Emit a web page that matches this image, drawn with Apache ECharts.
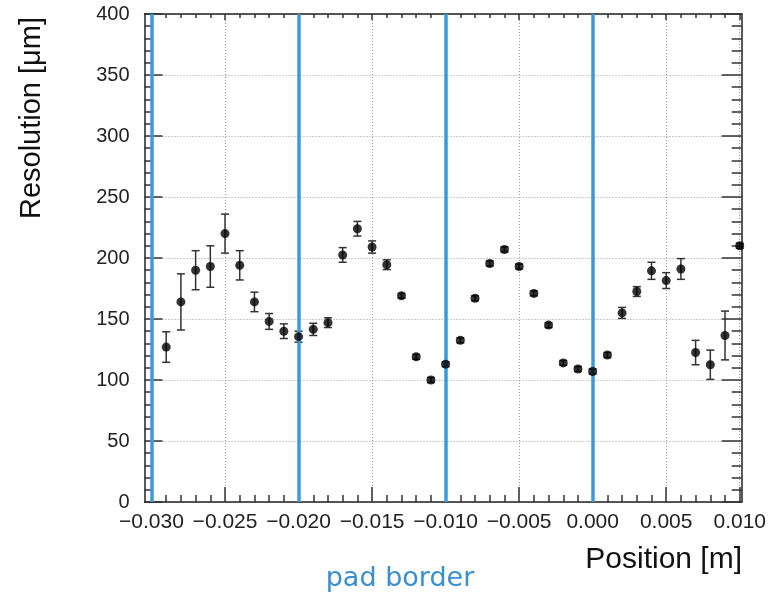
<!DOCTYPE html>
<html>
<head>
<meta charset="utf-8">
<script src="https://cdn.jsdelivr.net/npm/echarts@6/dist/echarts.min.js"></script>
<style>
  html, body { margin: 0; padding: 0; background: #fff; }
  #main { width: 769px; height: 598px; }
</style>
</head>
<body>
<div id="main"></div>
<script>
// position of each measurement [m]
const positions = [
  -0.029, -0.028, -0.027, -0.026, -0.025, -0.024, -0.023, -0.022, -0.021, -0.020,
  -0.019, -0.018, -0.017, -0.016, -0.015, -0.014, -0.013, -0.012, -0.011, -0.010,
  -0.009, -0.008, -0.007, -0.006, -0.005, -0.004, -0.003, -0.002, -0.001, 0.000,
  0.001, 0.002, 0.003, 0.004, 0.005, 0.006, 0.007, 0.008, 0.009, 0.010
];
// resolution [um]
const resolution = [
  127, 164, 190, 193, 220, 194, 164, 148, 140, 135.5,
  141.5, 147, 202.5, 224, 209, 194.5, 169, 119, 100, 113,
  132.5, 167, 195.5, 207, 193, 171, 145, 114, 109, 107,
  120.5, 155, 172.5, 189.5, 181.5, 191, 122.5, 112.5, 136.5, 210
];
// error on resolution [um]
const resolutionErr = [
  12.5, 23, 16, 17, 16, 12, 8, 6.5, 6, 4.5,
  5, 4, 6, 6, 5, 4, 2, 2, 2, 2,
  2, 2, 2, 2, 2, 2, 2, 2, 2, 2,
  2, 4.5, 4, 7, 6.5, 8.5, 10, 12, 20, 2
];
// pad borders [m]
const padBorders = [-0.030, -0.020, -0.010, 0.000];

const xMin = -0.03, xMax = 0.01, xStep = 0.005;
const yMin = 0, yMax = 400, yStep = 50;

const FONT = "'Liberation Sans', Arial, sans-serif";
const BLUE = "#3b9bd8";

const points = positions.map((x, i) => [x, resolution[i]]);
const bars = positions.map((x, i) => [x, resolution[i] - resolutionErr[i], resolution[i] + resolutionErr[i]]);

function fmtX(v) {
  if (Math.abs(v) < 1e-9) return "0.000";
  const s = Math.abs(v).toFixed(3);
  return v < 0 ? "\u2212" + s : s;
}

const chart = echarts.init(document.getElementById("main"));

const frameLine = { show: true, onZero: false, lineStyle: { color: "#222", width: 1.5 } };
const gridDots = { show: true, lineStyle: { color: "#999", type: [1, 2], width: 1 } };

chart.setOption({
  animation: false,
  grid: [
    { left: 144.5, right: 27.3, top: 14, bottom: 96 }, // frame
    { left: 151.5, right: 28.8, top: 14, bottom: 96 }  // data
  ],
  xAxis: [
    { gridIndex: 0, type: "value", min: 0, max: 1, position: "bottom",
      axisLine: frameLine, axisTick: { show: false }, axisLabel: { show: false }, splitLine: { show: false } },
    { gridIndex: 0, type: "value", min: 0, max: 1, position: "top",
      axisLine: frameLine, axisTick: { show: false }, axisLabel: { show: false }, splitLine: { show: false } },
    { gridIndex: 1, type: "value", min: xMin, max: xMax, interval: xStep, position: "bottom",
      axisLine: { show: false, onZero: false },
      axisTick: { show: true, inside: true, length: 15, lineStyle: { color: "#333", width: 1.5 } },
      minorTick: { show: true, splitNumber: 5, length: 7, lineStyle: { color: "#333", width: 1.5 } },
      axisLabel: { show: true, formatter: fmtX, fontSize: 21, fontFamily: FONT, color: "#222", margin: 10 },
      splitLine: gridDots },
    { gridIndex: 1, type: "value", min: xMin, max: xMax, interval: xStep, position: "top",
      axisLine: { show: false, onZero: false },
      axisTick: { show: true, inside: true, length: 6, lineStyle: { color: "#333", width: 1.5 } },
      minorTick: { show: true, splitNumber: 5, length: 4, lineStyle: { color: "#333", width: 1.5 } },
      axisLabel: { show: false }, splitLine: { show: false } }
  ],
  yAxis: [
    { gridIndex: 0, type: "value", min: yMin, max: yMax, interval: yStep, position: "left",
      axisLine: frameLine,
      axisTick: { show: true, inside: true, length: 18, lineStyle: { color: "#333", width: 1.5 } },
      minorTick: { show: true, splitNumber: 5, length: 8, lineStyle: { color: "#333", width: 1.5 } },
      axisLabel: { show: true, fontSize: 20, fontFamily: FONT, color: "#222", margin: 15 },
      splitLine: gridDots },
    { gridIndex: 0, type: "value", min: yMin, max: yMax, interval: yStep, position: "right",
      axisLine: frameLine,
      axisTick: { show: true, inside: true, length: 20, lineStyle: { color: "#333", width: 1.5 } },
      minorTick: { show: true, splitNumber: 5, length: 10, lineStyle: { color: "#333", width: 1.5 } },
      axisLabel: { show: false }, splitLine: { show: false } },
    { gridIndex: 1, type: "value", min: yMin, max: yMax, show: false }
  ],
  series: [
    {
      // pad borders
      type: "line", xAxisIndex: 2, yAxisIndex: 2, data: [], z: 1,
      markLine: {
        silent: true, symbol: "none", animation: false,
        label: { show: false },
        lineStyle: { color: BLUE, width: 3.5, type: "solid" },
        data: padBorders.map(v => ({ xAxis: v }))
      }
    },
    {
      type: "custom", xAxisIndex: 2, yAxisIndex: 2, z: 4,
      encode: { x: 0, y: [1, 2] },
      data: bars,
      renderItem: function (params, api) {
        const x = api.value(0);
        const top = api.coord([x, api.value(2)]);
        const bot = api.coord([x, api.value(1)]);
        const w = 4;
        const st = { stroke: "#333", lineWidth: 1.5 };
        return {
          type: "group",
          children: [
            { type: "line", shape: { x1: top[0], y1: top[1], x2: bot[0], y2: bot[1] }, style: st },
            { type: "line", shape: { x1: top[0] - w, y1: top[1], x2: top[0] + w, y2: top[1] }, style: st },
            { type: "line", shape: { x1: bot[0] - w, y1: bot[1], x2: bot[0] + w, y2: bot[1] }, style: st }
          ]
        };
      }
    },
    {
      type: "scatter", xAxisIndex: 2, yAxisIndex: 2, z: 5,
      symbol: "circle", symbolSize: 9,
      itemStyle: { color: "#000" },
      data: points
    }
  ],
  graphic: [
    { type: "text", x: 32, y: 118, rotation: Math.PI / 2,
      style: { text: "Resolution [\u03bcm]", font: "29px " + FONT, fill: "#111", align: "center", verticalAlign: "middle" } },
    { type: "text", x: 742, y: 560,
      style: { text: "Position [m]", font: "30px " + FONT, fill: "#111", align: "right", verticalAlign: "middle" } },
    { type: "text", x: 400, y: 579,
      style: { text: "pad border", font: "27px 'DejaVu Sans', sans-serif", fill: "#3a90cf", align: "center", verticalAlign: "middle" } }
  ]
});
</script>
</body>
</html>
